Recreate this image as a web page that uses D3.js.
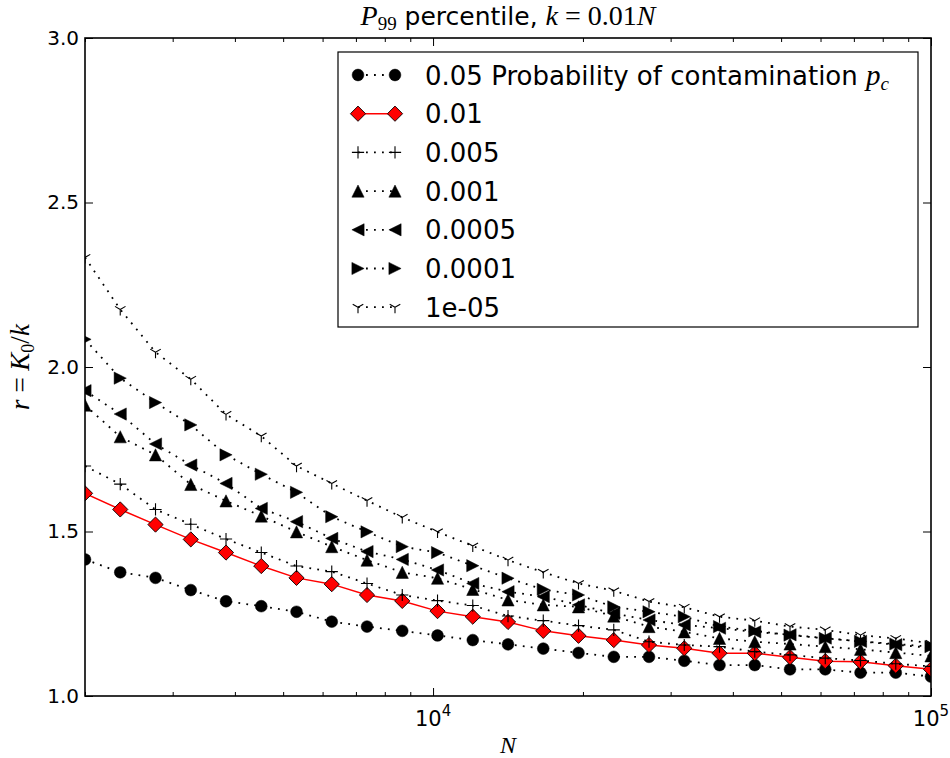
<!DOCTYPE html>
<html>
<head>
<meta charset="utf-8">
<script src="https://cdn.jsdelivr.net/npm/d3@7"></script>
<style>
  html, body { margin: 0; padding: 0; background: #fff; }
  svg { display: block; }
</style>
</head>
<body>
<svg id="chart" width="950" height="758"></svg>
<script>
// ---------------- DATA ----------------
const N = [2000, 2354, 2771, 3262, 3839, 4519, 5319, 6260, 7369, 8673,
           10209, 12016, 14143, 16647, 19594, 23063, 27146, 31952, 37609, 44267,
           52104, 61329, 72187, 84968, 100000];

const pcLabels = ["0.05", "0.01", "0.005", "0.001", "0.0005", "0.0001", "1e-05"];

const r_005   = [1.415, 1.376, 1.359, 1.322, 1.288, 1.273, 1.256, 1.226, 1.211, 1.198,
                 1.184, 1.170, 1.157, 1.144, 1.131, 1.119, 1.119, 1.107, 1.094, 1.094,
                 1.081, 1.081, 1.071, 1.071, 1.059];
const r_001   = [1.616, 1.567, 1.521, 1.476, 1.436, 1.395, 1.359, 1.340, 1.307, 1.289,
                 1.258, 1.241, 1.225, 1.198, 1.183, 1.170, 1.155, 1.145, 1.130, 1.130,
                 1.118, 1.106, 1.104, 1.092, 1.081];
const r_0005  = [1.699, 1.644, 1.567, 1.522, 1.477, 1.436, 1.395, 1.378, 1.342, 1.307,
                 1.290, 1.275, 1.243, 1.229, 1.214, 1.201, 1.165, 1.155, 1.150, 1.135,
                 1.125, 1.115, 1.108, 1.098, 1.090];
const r_0001  = [1.884, 1.788, 1.733, 1.643, 1.593, 1.547, 1.499, 1.454, 1.413, 1.376,
                 1.358, 1.324, 1.292, 1.277, 1.271, 1.243, 1.211, 1.195, 1.175, 1.165,
                 1.158, 1.150, 1.142, 1.132, 1.122];
const r_00005 = [1.928, 1.857, 1.766, 1.702, 1.646, 1.570, 1.530, 1.479, 1.439, 1.415,
                 1.383, 1.342, 1.317, 1.302, 1.277, 1.251, 1.231, 1.216, 1.206, 1.195,
                 1.186, 1.176, 1.166, 1.156, 1.146];
const r_00001 = [2.084, 1.966, 1.892, 1.824, 1.733, 1.674, 1.619, 1.545, 1.499, 1.454,
                 1.436, 1.396, 1.358, 1.324, 1.307, 1.271, 1.256, 1.241, 1.211, 1.198,
                 1.185, 1.175, 1.166, 1.158, 1.150];
const r_1e5   = [2.333, 2.175, 2.045, 1.963, 1.856, 1.790, 1.699, 1.646, 1.594, 1.543,
                 1.499, 1.456, 1.413, 1.376, 1.342, 1.320, 1.287, 1.270, 1.241, 1.229,
                 1.211, 1.201, 1.185, 1.175, 1.160];

const yTicks = [1.0, 1.5, 2.0, 2.5, 3.0];
const xMajor = [10000, 100000];

// ---------------- LAYOUT / STYLE ----------------
const seriesValues = [r_005, r_001, r_0005, r_0001, r_00005, r_00001, r_1e5];
const styles = [
  {marker: "circle",   color: "#000", fill: "#000", dash: "dot"},
  {marker: "diamond",  color: "#ff0000", fill: "#ff0000", dash: "solid"},
  {marker: "plus",     color: "#000", fill: "none", dash: "dot"},
  {marker: "triUp",    color: "#000", fill: "#000", dash: "dot"},
  {marker: "triLeft",  color: "#000", fill: "#000", dash: "dot"},
  {marker: "triRight", color: "#000", fill: "#000", dash: "dot"},
  {marker: "triDown",  color: "#000", fill: "none", dash: "dot"}
];

const M = {left: 85, right: 931, top: 38, bottom: 696};
const svg = d3.select("#chart");

const x = d3.scaleLog().domain([2000, 100000]).range([M.left, M.right]);
const y = d3.scaleLinear().domain([1.0, 3.0]).range([M.bottom, M.top]);

const SANS = "'DejaVu Sans', 'Bitstream Vera Sans', sans-serif";
const SERIF = "'Liberation Serif', 'DejaVu Serif', serif";

function markerPath(type) {
  const h = 6.1;
  switch (type) {
    case "circle": return d3.symbol().type(d3.symbolCircle).size(Math.PI * 5.9 * 5.9)();
    case "diamond": { const d = 7.6; return `M0,${-d}L${d},0L0,${d}L${-d},0Z`; }
    case "plus": return `M${-h},0H${h}M0,${-h}V${h}`;
    case "triUp": return `M0,${-h}L${h},${h}L${-h},${h}Z`;
    case "triLeft": return `M${-h},0L${h},${-h}L${h},${h}Z`;
    case "triRight": return `M${h},0L${-h},${-h}L${-h},${h}Z`;
    case "triDown": return `M0,0V${h}M0,0L${0.866*h},${-0.5*h}M0,0L${-0.866*h},${-0.5*h}`;
  }
}
function markerAttrs(sel, st) {
  if (st.marker === "plus" || st.marker === "triDown") {
    sel.attr("fill", "none").attr("stroke", "#000").attr("stroke-width", 1.1);
  } else if (st.marker === "diamond") {
    sel.attr("fill", st.fill).attr("stroke", "#000").attr("stroke-width", 0.9);
  } else {
    sel.attr("fill", st.fill).attr("stroke", "#000").attr("stroke-width", 0.5);
  }
}
function lineAttrs(sel, st) {
  sel.attr("fill", "none").attr("stroke", st.color);
  if (st.dash === "dot") {
    sel.attr("stroke-width", 1.8).attr("stroke-dasharray", "1.8,6.2");
  } else {
    sel.attr("stroke-width", 1.5);
  }
}

svg.append("defs").append("clipPath").attr("id", "plotclip")
  .append("rect").attr("x", M.left).attr("y", M.top)
  .attr("width", M.right - M.left).attr("height", M.bottom - M.top);

svg.append("rect").attr("x", M.left).attr("y", M.top)
  .attr("width", M.right - M.left).attr("height", M.bottom - M.top).attr("fill", "#fff");

const plot = svg.append("g").attr("clip-path", "url(#plotclip)");

const line = d3.line().x((d, i) => x(N[i])).y(d => y(d));

seriesValues.forEach((vals, si) => {
  const st = styles[si];
  const g = plot.append("g");
  g.append("path").datum(vals).attr("d", line).call(lineAttrs, st);
  g.selectAll("path.m").data(vals).enter().append("path").attr("class", "m")
    .attr("transform", (d, i) => `translate(${x(N[i])},${y(d)})`)
    .attr("d", markerPath(st.marker))
    .call(markerAttrs, st);
});

// ---------------- AXES ----------------
const minorX = x.ticks().filter(v => !xMajor.includes(v));
const fontTick = 20;

function styleAxis(g) {
  g.select(".domain").remove();
  g.selectAll("line").attr("stroke", "#000").attr("stroke-width", 1);
}

svg.append("g").attr("transform", `translate(0,${M.bottom})`)
  .call(d3.axisBottom(x).tickValues(xMajor).tickSizeInner(-8).tickSizeOuter(0).tickFormat(""))
  .call(styleAxis);
svg.append("g").attr("transform", `translate(0,${M.bottom})`)
  .call(d3.axisBottom(x).tickValues(minorX).tickSizeInner(-4).tickSizeOuter(0).tickFormat(""))
  .call(styleAxis);
svg.append("g").attr("transform", `translate(0,${M.top})`)
  .call(d3.axisTop(x).tickValues(xMajor).tickSizeInner(-8).tickSizeOuter(0).tickFormat(""))
  .call(styleAxis);
svg.append("g").attr("transform", `translate(0,${M.top})`)
  .call(d3.axisTop(x).tickValues(minorX).tickSizeInner(-4).tickSizeOuter(0).tickFormat(""))
  .call(styleAxis);
const yAxisL = svg.append("g").attr("transform", `translate(${M.left},0)`)
  .call(d3.axisLeft(y).tickValues(yTicks).tickSizeInner(-8).tickSizeOuter(0).tickPadding(6)
        .tickFormat(d3.format(".1f")))
  .call(styleAxis);
yAxisL.selectAll("text").attr("font-family", SANS).attr("font-size", fontTick).attr("fill", "#000");
svg.append("g").attr("transform", `translate(${M.right},0)`)
  .call(d3.axisRight(y).tickValues(yTicks).tickSizeInner(-8).tickSizeOuter(0).tickFormat(""))
  .call(styleAxis);

const xl = svg.append("g");
xMajor.forEach(v => {
  const t = xl.append("text").attr("x", x(v)).attr("y", M.bottom + 30)
    .attr("text-anchor", "middle").attr("font-family", SANS).attr("font-size", 21);
  t.append("tspan").text("10");
  t.append("tspan").attr("dy", -10).attr("font-size", 15).text(String(Math.round(Math.log10(v))));
});

svg.append("rect").attr("x", M.left).attr("y", M.top)
  .attr("width", M.right - M.left).attr("height", M.bottom - M.top)
  .attr("fill", "none").attr("stroke", "#000").attr("stroke-width", 1.6);

// ---------------- TITLE & LABELS ----------------
const title = svg.append("text").attr("x", (M.left + M.right) / 2).attr("y", 25)
  .attr("text-anchor", "middle").attr("font-size", 25).attr("font-family", SANS);
title.append("tspan").attr("font-family", SERIF).attr("font-style", "italic").attr("font-size", 28).text("P");
title.append("tspan").attr("font-family", SERIF).attr("font-size", 19).attr("dy", 5).text("99");
title.append("tspan").attr("dy", -5).text(" percentile, ");
title.append("tspan").attr("font-family", SERIF).attr("font-style", "italic").attr("font-size", 28).text("k");
title.append("tspan").attr("font-family", SERIF).attr("font-size", 28).text(" = 0.01");
title.append("tspan").attr("font-family", SERIF).attr("font-style", "italic").attr("font-size", 28).text("N");

svg.append("text").attr("x", (M.left + M.right) / 2).attr("y", 753)
  .attr("text-anchor", "middle").attr("font-family", SERIF).attr("font-style", "italic")
  .attr("font-size", 24).text("N");

const ylab = svg.append("text")
  .attr("transform", `translate(29,${(M.top + M.bottom) / 2}) rotate(-90)`)
  .attr("text-anchor", "middle").attr("font-family", SERIF).attr("font-size", 27);
ylab.append("tspan").attr("font-style", "italic").text("r");
ylab.append("tspan").text(" = ");
ylab.append("tspan").attr("font-style", "italic").text("K");
ylab.append("tspan").attr("font-size", 18).attr("dy", 5).text("0");
ylab.append("tspan").attr("dy", -5).text("/");
ylab.append("tspan").attr("font-style", "italic").text("k");

// ---------------- LEGEND ----------------
const LG = {x: 338, y: 52, w: 580, h: 275, rowY0: 75, rowDy: 38.7, mx1: 358, mx2: 395, tx: 425};
const legend = svg.append("g");
legend.append("rect").attr("x", LG.x).attr("y", LG.y).attr("width", LG.w).attr("height", LG.h)
  .attr("fill", "#fff").attr("stroke", "#000").attr("stroke-width", 1.2);

pcLabels.forEach((lab, i) => {
  const st = styles[i];
  const cy = LG.rowY0 + i * LG.rowDy;
  const g = legend.append("g");
  g.append("path").attr("d", `M${LG.mx1},${cy}H${LG.mx2}`).call(lineAttrs, st);
  [LG.mx1, LG.mx2].forEach(mx => {
    g.append("path").attr("transform", `translate(${mx},${cy})`)
      .attr("d", markerPath(st.marker)).call(markerAttrs, st);
  });
  const t = g.append("text").attr("x", LG.tx).attr("y", cy + 9.5)
    .attr("font-family", SANS).attr("font-size", 26).attr("fill", "#000");
  t.append("tspan").text(lab);
  if (i === 0) {
    t.append("tspan").text(" Probability of contamination ");
    t.append("tspan").attr("font-family", SERIF).attr("font-style", "italic").attr("font-size", 29).text("p");
    t.append("tspan").attr("font-family", SERIF).attr("font-style", "italic")
      .attr("font-size", 19).attr("dy", 5).text("c");
  }
});
</script>
</body>
</html>
